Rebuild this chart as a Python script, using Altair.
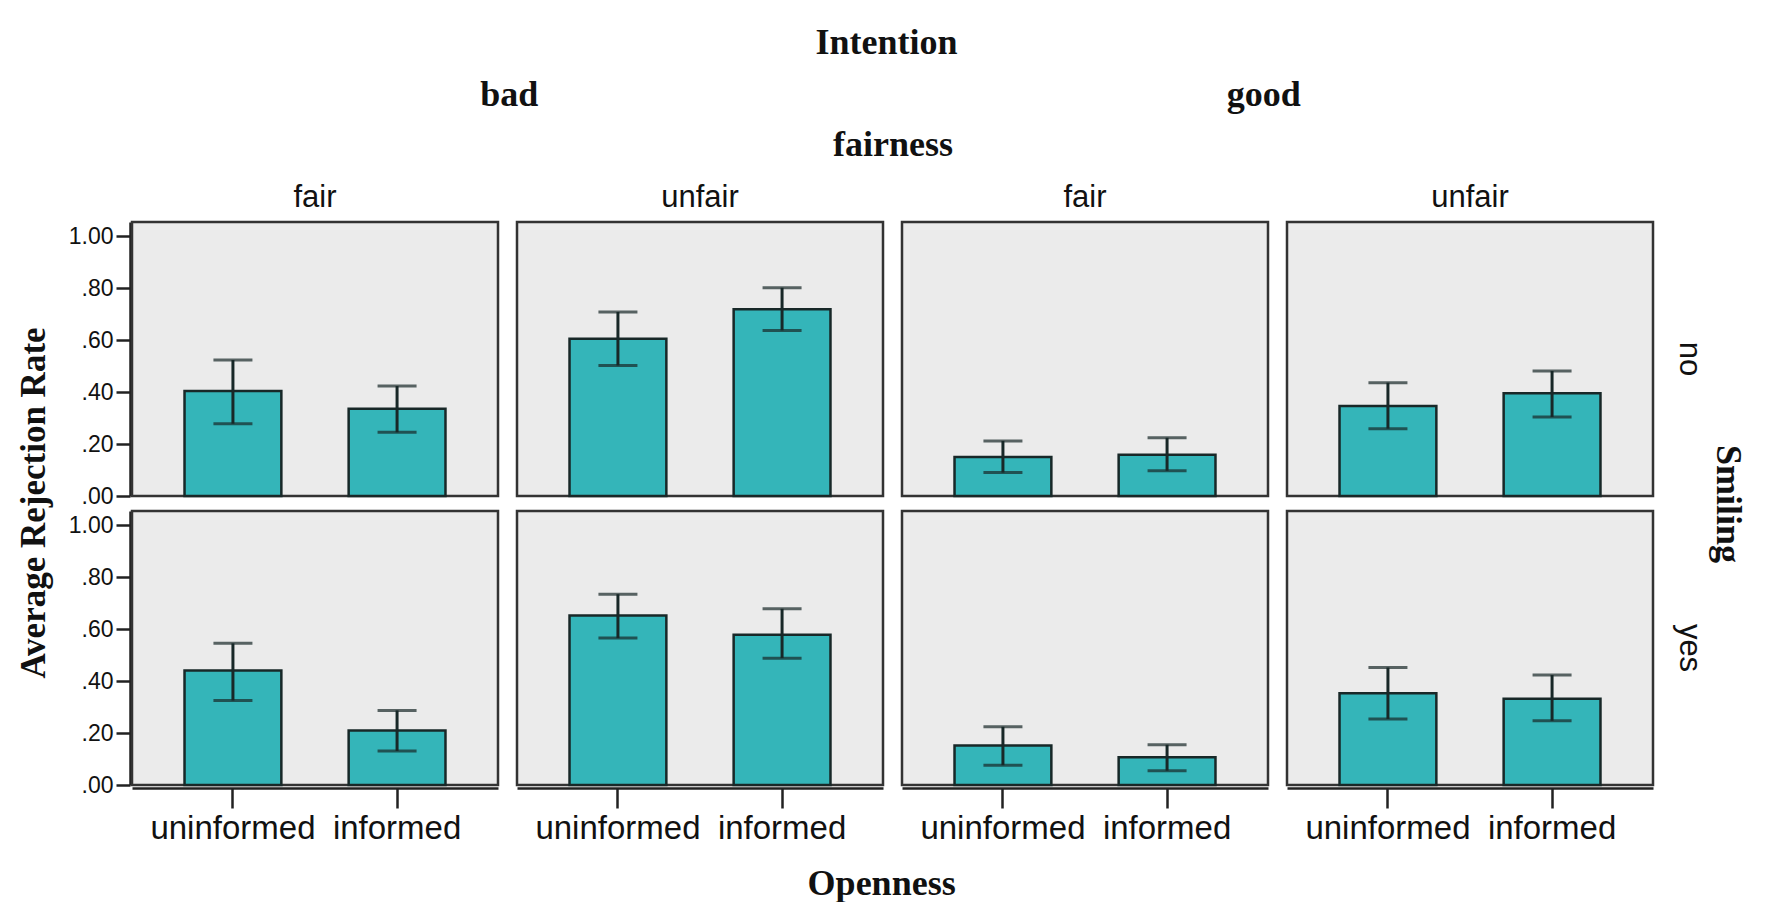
import altair as alt
import pandas as pd

# ---- data ----
intention_levels = ["bad", "good"]
fairness_levels = ["fair", "unfair"]
smiling_levels = ["no", "yes"]
openness_levels = ["uninformed", "informed"]

# order of panels: bad-fair, bad-unfair, good-fair, good-unfair; within each: uninformed, informed
panel_intention = ["bad", "bad", "good", "good"]
panel_fairness = ["fair", "unfair", "fair", "unfair"]

mean_no = [0.404, 0.336, 0.605, 0.718, 0.150, 0.159, 0.346, 0.395]
low_no = [0.278, 0.245, 0.502, 0.637, 0.090, 0.097, 0.259, 0.304]
high_no = [0.523, 0.423, 0.708, 0.801, 0.212, 0.224, 0.436, 0.481]

mean_yes = [0.440, 0.210, 0.652, 0.578, 0.152, 0.107, 0.353, 0.332]
low_yes = [0.325, 0.131, 0.565, 0.488, 0.076, 0.055, 0.254, 0.247]
high_yes = [0.545, 0.287, 0.734, 0.678, 0.224, 0.155, 0.452, 0.423]

y_ticks = [0.0, 0.2, 0.4, 0.6, 0.8, 1.0]

rows = []
for smile, means, lows, highs in [("no", mean_no, low_no, high_no),
                                  ("yes", mean_yes, low_yes, high_yes)]:
    k = 0
    for inten, fair in zip(panel_intention, panel_fairness):
        for op in openness_levels:
            rows.append({"Smiling": smile, "col": inten + "|" + fair,
                         "Openness": op, "mean": means[k], "low": lows[k], "high": highs[k]})
            k += 1
df = pd.DataFrame(rows)
col_order = [i + "|" + f for i, f in zip(panel_intention, panel_fairness)]

SERIF = "Liberation Serif"
SANS = "Liberation Sans"
INK = "#111111"
BAR = "#34B5B9"
EDGE = "#182828"

CELL_W, CELL_H = 366, 274
COL_GAP, ROW_GAP = 15, 10
TOTAL_W = 4 * CELL_W + 3 * COL_GAP

xaxis = alt.Axis(title=None, labelAngle=0, labelFont=SANS, labelFontSize=33,
                 labelColor=INK, tickSize=20, tickWidth=2.5, tickColor="#222",
                 labelPadding=4, domainColor="#222", domainWidth=2.5)
yaxis = alt.Axis(title=None, values=y_ticks, grid=False,
                 labelExpr="datum.value >= 1 ? '1.00' : substring(format(datum.value, '.2f'), 1)",
                 labelFont=SANS, labelFontSize=23, labelColor=INK,
                 tickSize=14, tickWidth=2.5, tickColor="#222", labelPadding=3,
                 domainColor="#222", domainWidth=2.5)
xscale = alt.Scale(paddingInner=0.41, paddingOuter=0.32)
yscale = alt.Scale(domain=[0, 1.054], nice=False, zero=True)


def xenc():
    return alt.X("Openness:N", sort=openness_levels, scale=xscale, axis=xaxis)


bars = alt.Chart().mark_bar(color=BAR, stroke=EDGE, strokeWidth=2.5).encode(
    x=xenc(), y=alt.Y("mean:Q", scale=yscale, axis=yaxis))
rule = alt.Chart().mark_rule(color=EDGE, strokeWidth=3).encode(
    x=xenc(), y=alt.Y("low:Q", scale=yscale, axis=yaxis), y2="high:Q")
cap_low = alt.Chart().mark_tick(color=EDGE, thickness=3, size=39).encode(
    x=xenc(), y=alt.Y("low:Q", scale=yscale, axis=yaxis))
cap_high = alt.Chart().mark_tick(color=EDGE, thickness=3, size=39).encode(
    x=xenc(), y=alt.Y("high:Q", scale=yscale, axis=yaxis))

cell = alt.layer(bars, rule, cap_low, cap_high).properties(width=CELL_W, height=CELL_H)

facet = cell.facet(
    data=df,
    column=alt.Column("col:N", sort=col_order,
                      header=alt.Header(title="fairness", titleFont=SERIF, titleFontSize=36,
                                        titleFontWeight="bold", titleColor=INK, titlePadding=8,
                                        labelExpr="split(datum.value, '|')[1]",
                                        labelFont=SANS, labelFontSize=31, labelColor=INK,
                                        labelPadding=6)),
    row=alt.Row("Smiling:N", sort=smiling_levels,
                header=alt.Header(title="Smiling", titleOrient="right", titleAngle=90,
                                  titleFont=SERIF, titleFontSize=36, titleFontWeight="bold",
                                  titleColor=INK, titlePadding=-6,
                                  labelOrient="right", labelAngle=90,
                                  labelFont=SANS, labelFontSize=31, labelColor=INK,
                                  labelPadding=18)),
    spacing=alt.RowColnumber(row=ROW_GAP, column=COL_GAP),
    title=alt.TitleParams("Average Rejection Rate", orient="left", anchor="middle",
                          font=SERIF, fontSize=35, fontWeight="bold",
                          color=INK, offset=16, dx=-17),
)

top_df = pd.DataFrame({"Intention": intention_levels})
top = alt.Chart(top_df).mark_text(font=SERIF, fontSize=36, fontWeight="bold",
                                  color=INK, baseline="middle").encode(
    x=alt.X("Intention:N", sort=intention_levels,
            scale=alt.Scale(paddingInner=0, paddingOuter=0), axis=None),
    y=alt.value(26),
    text="Intention:N",
).properties(width=TOTAL_W, height=48,
             view=alt.ViewBackground(fill="white", stroke="transparent"),
             title=alt.TitleParams("Intention", font=SERIF, fontSize=36, fontWeight="bold",
                                   color=INK, anchor="middle", offset=7))

chart = alt.vconcat(top, facet, spacing=8,
                    title=alt.TitleParams("Openness", orient="bottom", anchor="middle",
                                          font=SERIF, fontSize=36, fontWeight="bold",
                                          color=INK, offset=22)
).properties(padding={"left": 9, "top": 15, "right": 5, "bottom": 0},
             background="white"
).configure_view(fill="#EBEBEB", stroke="#333333", strokeWidth=2.5)

chart.save("out.html", embed_options={"renderer": "svg", "actions": False})
